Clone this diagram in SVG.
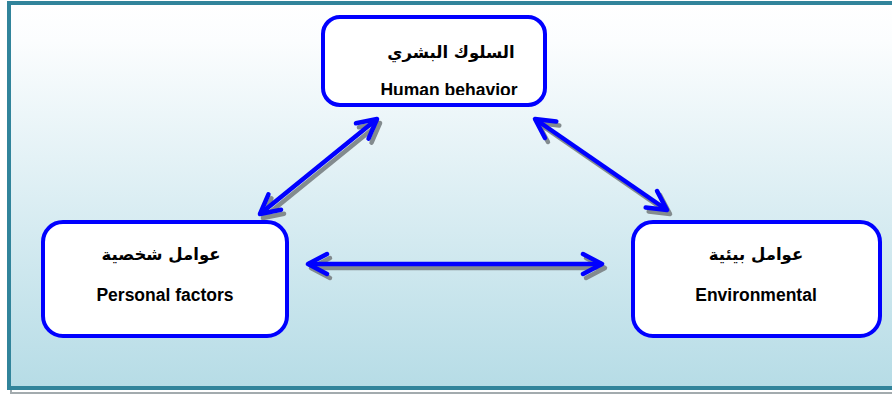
<svg xmlns="http://www.w3.org/2000/svg" width="892" height="396" viewBox="0 0 892 396">
  <defs>
    <linearGradient id="bg" x1="0" y1="0" x2="0" y2="1">
      <stop offset="0" stop-color="#ffffff"/>
      <stop offset="0.1" stop-color="#fbfdfe"/>
      <stop offset="1" stop-color="#b6dce6"/>
    </linearGradient>
    <marker id="head" markerUnits="userSpaceOnUse" markerWidth="40" markerHeight="40" viewBox="-30 -20 40 40" refX="0" refY="0" orient="auto-start-reverse" overflow="visible">
      <path d="M -19 -10 L 0 0 L -19 10" fill="none" stroke="#0000ff" stroke-width="4.5" stroke-linecap="round" stroke-linejoin="round"/>
    </marker>
    <marker id="headShadow" markerUnits="userSpaceOnUse" markerWidth="40" markerHeight="40" viewBox="-30 -20 40 40" refX="0" refY="0" orient="auto-start-reverse" overflow="visible">
      <path d="M -19 -10 L 0 0 L -19 10" fill="none" stroke="#838b8e" stroke-width="4.5" stroke-linecap="round" stroke-linejoin="round"/>
    </marker>
    <clipPath id="clipTop">
      <rect x="323" y="17" width="222" height="78"/>
    </clipPath>
  </defs>
  <style>
    .node rect { fill: #ffffff; stroke: #0000ff; stroke-width: 4; }
    .ar { font-family: "DejaVu Sans", "Noto Sans", sans-serif; font-weight: bold; font-size: 16.5px; fill: #000000; text-anchor: middle; }
    .en { font-family: "Liberation Sans", Arial, sans-serif; font-weight: bold; font-size: 17.5px; fill: #000000; text-anchor: middle; }
    .conn { fill: none; stroke: #0000ff; stroke-width: 4.5; marker-start: url(#head); marker-end: url(#head); }
    .shadow { fill: none; stroke: #838b8e; stroke-width: 4.5; marker-start: url(#headShadow); marker-end: url(#headShadow); }
  </style>

  <!-- frame -->
  <rect x="11" y="7" width="900" height="386" fill="none" stroke="#a3abae" stroke-width="2"/>
  <rect x="9" y="3" width="900" height="385" fill="url(#bg)" stroke="#31849b" stroke-width="4"/>

  <!-- connectors -->
  <g id="connectors">
    <g transform="translate(3,4)">
      <line class="shadow" x1="260" y1="214" x2="377" y2="119"/>
      <line class="shadow" x1="535" y1="119" x2="667" y2="210"/>
      <line class="shadow" x1="308" y1="264" x2="602" y2="264"/>
    </g>
    <line class="conn" x1="260" y1="214" x2="377" y2="119"/>
    <line class="conn" x1="535" y1="119" x2="667" y2="210"/>
    <line class="conn" x1="308" y1="264" x2="602" y2="264"/>
  </g>

  <g id="node-human" class="node">
    <rect x="323" y="17" width="222" height="88" rx="17"/>
    <text class="ar" x="451" y="58">السلوك البشري</text>
    <text class="en" x="449" y="96" clip-path="url(#clipTop)">Human behavior</text>
  </g>

  <g id="node-personal" class="node">
    <rect x="43" y="222" width="244" height="114" rx="20"/>
    <text class="ar" x="161" y="260">عوامل شخصية</text>
    <text class="en" x="165" y="301">Personal factors</text>
  </g>

  <g id="node-environmental" class="node">
    <rect x="633" y="222" width="247" height="114" rx="20"/>
    <text class="ar" x="756" y="260">عوامل بيئية</text>
    <text class="en" x="756" y="301">Environmental</text>
  </g>
</svg>
